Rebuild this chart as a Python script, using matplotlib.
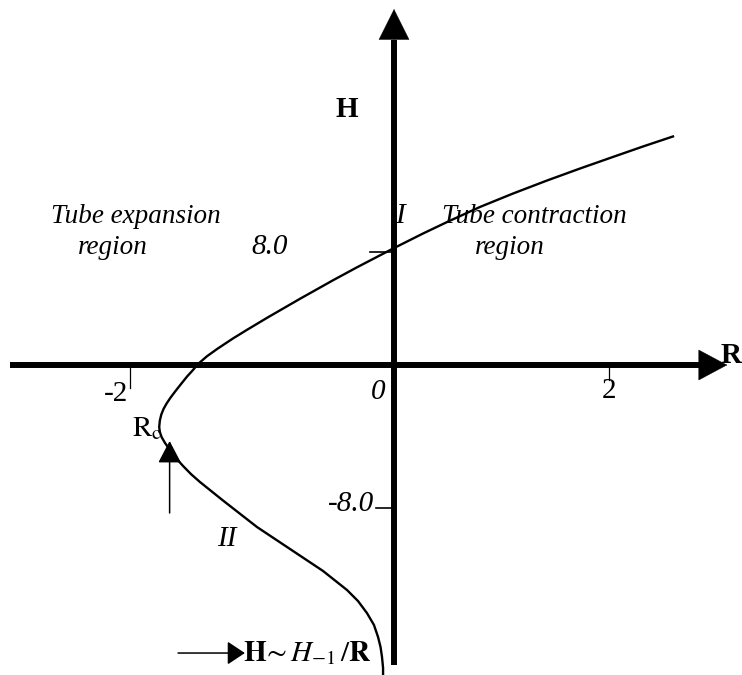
import numpy as np
import matplotlib
matplotlib.use("Agg")
from matplotlib import pyplot as plt

plt.rcParams["font.family"] = ["Liberation Serif", "DejaVu Serif"]
plt.rcParams["mathtext.fontset"] = "stix"

# Křivka H(R): větev I nahoře, větev II dole
R_krivka = [2.595, 2.316, 2.037, 1.730, 1.423, 1.107, 0.800, 0.493, 0.270, 0.000,
            -0.280, -0.462, -0.712, -0.962, -1.114, -1.220, -1.341, -1.417, -1.485,
            -1.527, -1.568, -1.614, -1.655, -1.693, -1.723, -1.746, -1.763, -1.774,
            -1.779, -1.774, -1.761, -1.735, -1.697, -1.652, -1.598, -1.538, -1.470,
            -1.295, -1.038, -0.788, -0.538, -0.356, -0.273, -0.205, -0.152, -0.121,
            -0.102, -0.091, -0.083, -0.083]
H_krivka = [16.18, 15.47, 14.73, 13.91, 13.06, 12.14, 11.19, 10.12, 9.31, 8.28,
            6.92, 6.00, 4.69, 3.34, 2.49, 1.88, 1.13, 0.62, 0.07,
            -0.31, -0.64, -1.06, -1.44, -1.81, -2.14, -2.44, -2.75, -3.08,
            -3.44, -3.72, -4.00, -4.33, -4.72, -5.17, -5.61, -6.06, -6.50,
            -7.53, -9.00, -10.22, -11.44, -12.50, -13.11, -13.78, -14.44, -15.11,
            -15.67, -16.22, -16.83, -17.50]

# Popisky os
R_ticky = [-2, 0, 2]
R_popisky = ["-2", "0", "2"]
H_ticky = [8.0, -8.0]
H_popisky = ["8.0", "-8.0"]

# Bod Rc a asymptota H ~ H_-1 / R
R_c = (-1.70, -4.22)
asymptota_H = -16.0

# Záporné poloosy jsou v obrázku natažené
K_R = 132 / 107.5
K_H = 18 / 14.125


def natazeni(k):
    def fwd(v):
        v = np.asarray(v, dtype=float)
        return np.where(v < 0, v * k, v)

    def inv(v):
        v = np.asarray(v, dtype=float)
        return np.where(v < 0, v / k, v)

    return fwd, inv


fig = plt.figure(figsize=(7.42, 6.75), dpi=100)
ax = fig.add_axes([0, 0, 1, 1])
ax.set_xscale("function", functions=natazeni(K_R))
ax.set_yscale("function", functions=natazeni(K_H))
ax.set_xlim(-2.985, 3.237)
ax.set_ylim(-17.22, 25.84)
ax.axis("off")


def sipka(start, zaklad, spicka, lw, delka, sirka):
    ax.plot([start[0], zaklad[0]], [start[1], zaklad[1]], color="k", lw=lw,
            solid_capstyle="butt")
    ax.annotate("", xy=spicka, xytext=zaklad,
                arrowprops=dict(arrowstyle=f"-|>,head_length={delka},head_width={sirka}",
                                mutation_scale=1, lw=0.3, color="k",
                                shrinkA=0, shrinkB=0))


# Osy R a H
sipka((-2.91, 0), (2.86, 0), (3.10, 0), 4.3, 20.2, 10.8)
sipka((0, -16.67), (0, 23.0), (0, 25.2), 4.3, 21.6, 10.8)

# Hlavní křivka
ax.plot(R_krivka, H_krivka, color="k", lw=1.7, solid_joinstyle="round")

# Značky na osách
ax.plot([R_ticky[0]] * 2, [0, -1.28], color="k", lw=0.9)
ax.plot([R_ticky[2]] * 2, [0, -0.83], color="k", lw=0.9)
ax.plot([-0.18, 0], [H_ticky[0]] * 2, color="k", lw=1.2)
ax.plot([-0.14, 0], [H_ticky[1] + 0.06] * 2, color="k", lw=1.2)

fs = 21
fs_oblast = 19.5
ax.text(-2.106, -1.6, R_popisky[0], fontsize=fs, ha="center", va="center")
ax.text(-0.12, -1.5, R_popisky[1], fontsize=fs, style="italic", ha="center", va="center")
ax.text(2.0, -1.44, R_popisky[2], fontsize=fs, ha="center", va="center")
ax.text(-0.94, 8.35, H_popisky[0], fontsize=fs, style="italic", ha="center", va="center")
ax.text(-0.326, -7.72, H_popisky[1], fontsize=fs, style="italic", ha="center", va="center")

ax.text(-0.356, 18.12, "H", fontsize=fs, weight="bold", ha="center", va="center")
ax.text(3.135, 0.64, "R", fontsize=fs, weight="bold", ha="center", va="center")

ax.text(-1.955, 10.48, "Tube expansion", fontsize=fs_oblast, style="italic",
        ha="center", va="center")
ax.text(-2.13, 8.35, "region", fontsize=fs_oblast, style="italic", ha="center", va="center")
ax.text(1.31, 10.48, "Tube contraction", fontsize=fs_oblast, style="italic",
        ha="center", va="center")
ax.text(1.08, 8.35, "region", fontsize=fs_oblast, style="italic", ha="center", va="center")
ax.text(0.056, 10.55, "I", fontsize=fs, style="italic", ha="center", va="center")
ax.text(-1.27, -9.67, "II", fontsize=fs, style="italic", ha="center", va="center")

# Rc se šipkou zespodu
ax.text(-1.87, -3.56, r"$\mathrm{R_c}$", fontsize=fs, ha="center", va="center")
ax.annotate("", xy=R_c, xytext=(R_c[0], -8.22),
            arrowprops=dict(arrowstyle="-|>,head_length=13.7,head_width=7.2",
                            mutation_scale=1, lw=1.1, color="k",
                            shrinkA=0, shrinkB=0))

# Asymptotické chování dolní větve
ax.annotate("", xy=(-1.13, asymptota_H), xytext=(-1.636, asymptota_H),
            arrowprops=dict(arrowstyle="-|>,head_length=10.8,head_width=7.2",
                            mutation_scale=1, lw=1.1, color="k",
                            shrinkA=0, shrinkB=0))
ax.text(-1.144, asymptota_H, r"$\mathbf{H}\!\sim H_{-1}\,/\mathbf{R}$", fontsize=fs,
        ha="left", va="center")

fig.savefig("out.png", dpi=100)
